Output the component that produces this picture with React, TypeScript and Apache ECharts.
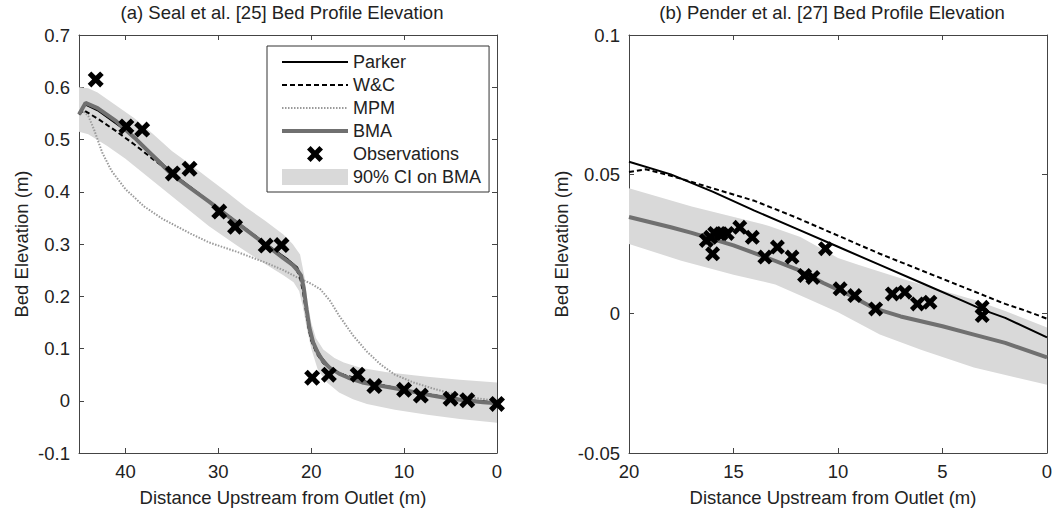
import React, { useEffect, useRef } from "react";
import * as echarts from "echarts";

// ---------- Panel (a): Seal et al. ----------
const aBmaX = [45, 44.3, 43, 41, 39, 37, 35, 33, 31, 29, 27, 25, 23, 22, 21.5, 21.1, 20.8, 20.5, 20.2, 19.8, 19.3, 18.7, 18, 17, 16, 14.5, 13, 11, 9, 7, 5, 3, 1.5, 0];
const aBmaY = [0.548, 0.57, 0.56, 0.535, 0.503, 0.468, 0.433, 0.407, 0.381, 0.354, 0.327, 0.3, 0.273, 0.26, 0.25, 0.24, 0.215, 0.175, 0.14, 0.112, 0.092, 0.075, 0.063, 0.052, 0.044, 0.035, 0.03, 0.024, 0.017, 0.01, 0.004, 0.0, -0.003, -0.005];

const aParkerX = [45, 44.3, 43, 40, 37, 35, 30, 25, 22.5, 21.5, 21, 20.7, 20.4, 20.1, 19.6, 19, 18, 17, 15, 12, 9, 6, 3, 0];
const aParkerY = [0.55, 0.567, 0.556, 0.518, 0.47, 0.436, 0.368, 0.302, 0.27, 0.255, 0.232, 0.2, 0.16, 0.13, 0.105, 0.085, 0.064, 0.052, 0.039, 0.027, 0.017, 0.008, 0.001, -0.004];

const aWcX = [45, 44.5, 43, 41, 39, 37, 35, 32, 29, 26, 23, 21.6, 21.2, 20.9, 20.6, 20.3, 20, 19.4, 18.7, 17.8, 16.5, 14, 11, 8, 5, 2, 0];
const aWcY = [0.548, 0.556, 0.54, 0.516, 0.49, 0.462, 0.435, 0.395, 0.355, 0.315, 0.275, 0.252, 0.235, 0.21, 0.175, 0.14, 0.115, 0.09, 0.072, 0.06, 0.05, 0.036, 0.025, 0.014, 0.005, -0.001, -0.004];

const aMpmX = [45, 44.6, 44, 43.4, 42.5, 41.5, 40, 38, 36, 33, 31, 28, 25, 23, 21.5, 20, 19, 18, 17, 15.5, 14, 12.5, 11, 9, 7, 5, 3, 1, 0];
const aMpmY = [0.55, 0.555, 0.545, 0.52, 0.475, 0.44, 0.405, 0.372, 0.348, 0.32, 0.303, 0.285, 0.265, 0.25, 0.236, 0.224, 0.213, 0.192, 0.163, 0.125, 0.094, 0.069, 0.05, 0.035, 0.024, 0.014, 0.007, 0.002, 0.0];

const aCiUpX = [45, 44, 43, 41, 39, 37, 35, 33, 31, 29, 27, 25, 23, 22, 21.2, 20.7, 20.4, 20, 19.5, 18.7, 17.5, 16.5, 14.7, 12, 9, 7.5, 4, 0];
const aCiUpY = [0.6, 0.598, 0.59, 0.565, 0.54, 0.51, 0.478, 0.452, 0.425, 0.398, 0.37, 0.345, 0.318, 0.3, 0.28, 0.235, 0.19, 0.15, 0.12, 0.098, 0.082, 0.073, 0.063, 0.055, 0.049, 0.046, 0.04, 0.035];
const aCiLoX = [45, 44, 42, 40, 37, 34, 31, 28, 25, 23, 21.9, 21.3, 20.9, 20.5, 20, 19.3, 18.3, 17, 15.5, 14, 11, 7.5, 4, 0];
const aCiLoY = [0.515, 0.51, 0.488, 0.463, 0.42, 0.377, 0.334, 0.297, 0.262, 0.24, 0.227, 0.21, 0.18, 0.14, 0.1, 0.06, 0.035, 0.016, 0.003, -0.006, -0.017, -0.027, -0.035, -0.042];

const aObsX = [43.2, 39.9, 38.2, 34.9, 33.1, 29.9, 28.2, 24.9, 23.2, 19.9, 18.1, 15.0, 13.2, 10.0, 8.2, 5.0, 3.2, 0.0];
const aObsY = [0.615, 0.525, 0.519, 0.435, 0.444, 0.362, 0.333, 0.297, 0.298, 0.044, 0.05, 0.05, 0.028, 0.021, 0.01, 0.004, 0.001, -0.006];

// ---------- Panel (b): Pender et al. ----------
const bBmaX = [20, 18, 17, 15, 13.3, 12, 10.7, 9.4, 8.3, 7, 5, 3.5, 2, 0];
const bBmaY = [0.0347, 0.031, 0.029, 0.0245, 0.0198, 0.016, 0.011, 0.0065, 0.002, -0.001, -0.0045, -0.0075, -0.0105, -0.0157];

const bParkerX = [20, 18, 16, 14, 12, 10, 8, 6, 4, 3, 2, 0];
const bParkerY = [0.0545, 0.05, 0.0438, 0.037, 0.0305, 0.024, 0.0175, 0.011, 0.0045, 0.0012, -0.0015, -0.0085];

const bWcX = [20, 19.2, 18, 16, 14, 12, 10, 8, 6, 4, 2, 1, 0];
const bWcY = [0.0508, 0.0518, 0.0495, 0.045, 0.0405, 0.0345, 0.028, 0.0215, 0.0155, 0.0095, 0.0035, 0.001, -0.0018];

const bCiUpX = [20, 17, 13.3, 11.8, 10, 9, 6.7, 3.5, 2, 0];
const bCiUpY = [0.045, 0.0385, 0.0315, 0.0275, 0.02, 0.0175, 0.012, 0.005, 0.001, -0.005];
const bCiLoX = [20, 17.5, 15, 13, 11.5, 10, 8, 6, 3.5, 0];
const bCiLoY = [0.025, 0.019, 0.014, 0.0105, 0.0055, 0.0005, -0.0075, -0.013, -0.0193, -0.0255];

const bObsX = [16.3, 16.1, 16.0, 15.9, 15.6, 15.3, 14.7, 14.1, 13.5, 12.9, 12.2, 11.6, 11.2, 10.6, 9.9, 9.2, 8.2, 7.4, 6.8, 6.2, 5.6, 3.1, 3.1];
const bObsY = [0.0263, 0.0274, 0.0215, 0.0288, 0.0287, 0.0288, 0.031, 0.0274, 0.0203, 0.0239, 0.0203, 0.0137, 0.013, 0.0233, 0.0089, 0.0065, 0.0017, 0.0071, 0.0077, 0.0035, 0.0041, 0.0023, -0.0007];

const titles = ["(a) Seal et al. [25] Bed Profile Elevation", "(b) Pender et al. [27] Bed Profile Elevation"];
const xName = "Distance Upstream from Outlet (m)";
const yName = "Bed Elevation (m)";
const legendNames = ["Parker", "W&C", "MPM", "BMA", "Observations", "90% CI on BMA"];

const FONT = "'Liberation Sans', Arial, Helvetica, sans-serif";
const TXT = "#222";
const AX = "#444";
const FS = 18.5;
const X_MARK = "path://M0,4.5 L4.5,0 L10,5.5 L15.5,0 L20,4.5 L14.5,10 L20,15.5 L15.5,20 L10,14.5 L4.5,20 L0,15.5 L5.5,10 Z";

const pair = (xs: number[], ys: number[]) => xs.map((x, i) => [x, ys[i]]);

function band(name: string, ux: number[], uy: number[], lx: number[], ly: number[], xi: number, yi: number) {
  return {
    type: "custom",
    name,
    xAxisIndex: xi,
    yAxisIndex: yi,
    silent: true,
    z: 1,
    itemStyle: { color: "#d9d9d9" },
    data: [[ux[0], uy[0]]],
    renderItem: (_p: any, api: any) => {
      const up = ux.map((x, i) => api.coord([x, uy[i]]));
      const lo = lx.map((x, i) => api.coord([x, ly[i]])).reverse();
      return { type: "polygon", shape: { points: up.concat(lo) }, style: { fill: "#d9d9d9" } };
    },
  };
}

function line(name: string, xs: number[], ys: number[], xi: number, yi: number, style: any, z: number) {
  return {
    type: "line",
    name,
    xAxisIndex: xi,
    yAxisIndex: yi,
    data: pair(xs, ys),
    symbol: "circle",
    symbolSize: 0,
    showSymbol: false,
    lineStyle: style,
    itemStyle: { color: style.color },
    z,
    silent: true,
  };
}

function obs(xs: number[], ys: number[], xi: number, yi: number, size: number) {
  return {
    type: "scatter",
    name: "Observations",
    xAxisIndex: xi,
    yAxisIndex: yi,
    data: pair(xs, ys),
    symbol: X_MARK,
    symbolSize: size,
    symbolKeepAspect: true,
    itemStyle: { color: "#000", opacity: 1 },
    z: 10,
    silent: true,
  };
}

function xAx(grid: number, max: number, interval: number, top: boolean) {
  return {
    type: "value",
    gridIndex: grid,
    min: 0,
    max,
    interval,
    inverse: true,
    position: top ? "top" : "bottom",
    axisLine: { show: true, onZero: false, lineStyle: { color: AX, width: 1 } },
    axisTick: { show: true, inside: true, length: 5, lineStyle: { color: AX } },
    splitLine: { show: false },
    axisLabel: top
      ? { show: false }
      : { show: true, color: TXT, fontSize: FS, fontFamily: FONT, margin: 9, showMaxLabel: max === 20 },
    name: top ? "" : xName,
    nameLocation: "middle",
    nameGap: 35,
    nameTextStyle: { color: TXT, fontSize: FS, fontFamily: FONT, padding: [0, 10, 0, 0] },
  };
}

function yAx(grid: number, min: number, max: number, interval: number, right: boolean, gap: number) {
  return {
    type: "value",
    gridIndex: grid,
    min,
    max,
    interval,
    position: right ? "right" : "left",
    axisLine: { show: true, onZero: false, lineStyle: { color: AX, width: 1 } },
    axisTick: { show: true, inside: true, length: 5, lineStyle: { color: AX } },
    splitLine: { show: false },
    axisLabel: right ? { show: false } : { show: true, color: TXT, fontSize: FS, fontFamily: FONT, margin: 9 },
    name: right ? "" : yName,
    nameLocation: "middle",
    nameGap: gap,
    nameTextStyle: { color: TXT, fontSize: FS, fontFamily: FONT },
  };
}

export default function App() {
  const ref = useRef<HTMLDivElement>(null);
  useEffect(() => {
    if (!ref.current) return;
    const chart = echarts.init(ref.current, undefined, { renderer: "svg" });
    const parkerStyle = { color: "#000", width: 2, type: "solid" };
    const wcStyle = { color: "#000", width: 2, type: [5, 3] };
    const mpmStyle = { color: "#9a9a9a", width: 2, type: [1.5, 1.5] };
    const bmaStyle = { color: "#707070", width: 4, type: "solid" };
    const styles = [parkerStyle, wcStyle, mpmStyle, bmaStyle];
    const legendData = legendNames.map((n, i) => {
      if (i < 4) {
        const s = styles[i];
        return { name: n, itemStyle: { opacity: 0 }, lineStyle: { color: s.color, width: s.width, type: s.type } };
      }
      if (i === 5) return { name: n, icon: "rect", itemStyle: { color: "#d9d9d9" } };
      return { name: n, itemStyle: { color: "#000", opacity: 1 } };
    });
    chart.setOption({
      animation: false,
      backgroundColor: "#fff",
      grid: [
        { left: 79, top: 35, width: 418, height: 418, containLabel: false },
        { left: 629, top: 35, width: 418, height: 418, containLabel: false },
      ],
      xAxis: [xAx(0, 45, 10, false), xAx(0, 45, 10, true), xAx(1, 20, 5, false), xAx(1, 20, 5, true)],
      yAxis: [
        yAx(0, -0.1, 0.7, 0.1, false, 48),
        yAx(0, -0.1, 0.7, 0.1, true, 0),
        yAx(1, -0.05, 0.1, 0.05, false, 58),
        yAx(1, -0.05, 0.1, 0.05, true, 0),
      ],
      legend: {
        orient: "vertical",
        left: 267,
        top: 46,
        padding: [7, 8, 6, 13],
        itemGap: 5,
        itemWidth: 66,
        itemHeight: 16,
        borderColor: "#333",
        borderWidth: 1,
        backgroundColor: "#fff",
        textStyle: { color: TXT, fontSize: 18, fontFamily: FONT },
        selectedMode: false,
        data: legendData,
        z: 20,
      },
      graphic: [
        {
          type: "text",
          x: 282,
          y: 12,
          style: { text: titles[0], fontSize: FS, fontFamily: FONT, fill: TXT, align: "center", verticalAlign: "middle", textAlign: "center", textVerticalAlign: "middle" },
        },
        {
          type: "text",
          x: 832,
          y: 12,
          style: { text: titles[1], fontSize: FS, fontFamily: FONT, fill: TXT, align: "center", verticalAlign: "middle", textAlign: "center", textVerticalAlign: "middle" },
        },
      ],
      series: [
        band("90% CI on BMA", aCiUpX, aCiUpY, aCiLoX, aCiLoY, 0, 0),
        line("MPM", aMpmX, aMpmY, 0, 0, mpmStyle, 2),
        line("Parker", aParkerX, aParkerY, 0, 0, parkerStyle, 3),
        line("W&C", aWcX, aWcY, 0, 0, wcStyle, 4),
        line("BMA", aBmaX, aBmaY, 0, 0, bmaStyle, 5),
        obs(aObsX, aObsY, 0, 0, 16),
        band("90% CI on BMA", bCiUpX, bCiUpY, bCiLoX, bCiLoY, 2, 2),
        line("Parker", bParkerX, bParkerY, 2, 2, parkerStyle, 3),
        line("W&C", bWcX, bWcY, 2, 2, wcStyle, 4),
        line("BMA", bBmaX, bBmaY, 2, 2, bmaStyle, 5),
        obs(bObsX, bObsY, 2, 2, 15),
      ],
    });
    return () => chart.dispose();
  }, []);
  return <div ref={ref} style={{ position: "fixed", left: 0, top: 0, width: 1059, height: 515, background: "#fff" }} />;
}
